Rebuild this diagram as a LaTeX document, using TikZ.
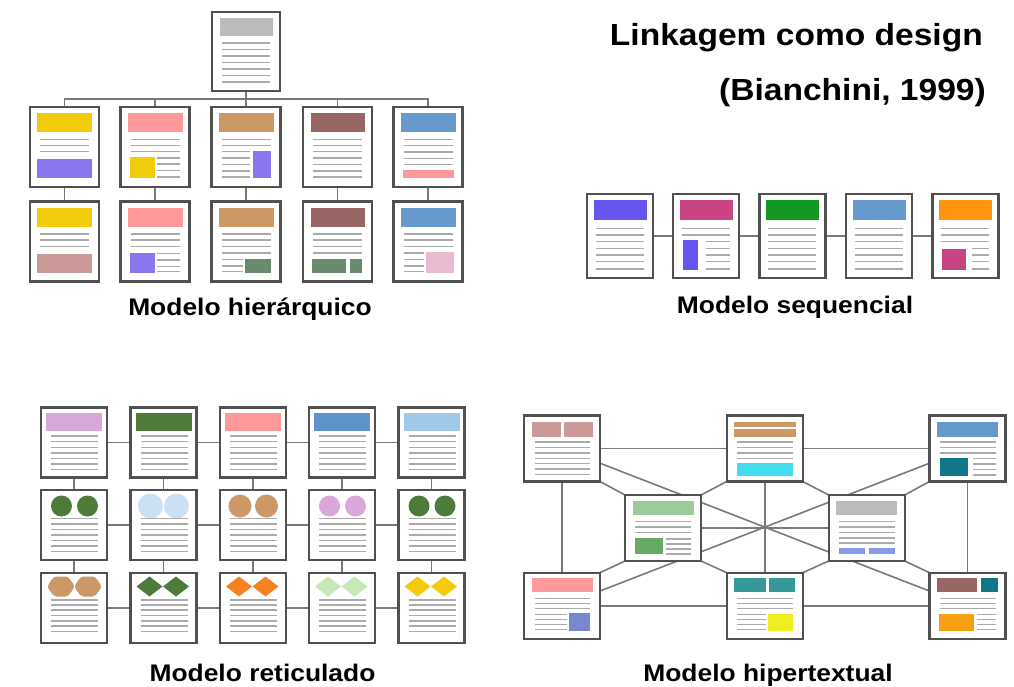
\documentclass[tikz,border=0pt]{standalone}
\usepackage{fontspec}
\setmainfont{Liberation Sans}
\usetikzlibrary{backgrounds,calc}
\definecolor{pageborder}{HTML}{505050}
\definecolor{linegray}{HTML}{ABABAB}
\definecolor{conngray}{HTML}{7A7A7A}
\definecolor{cgray}{HTML}{BBBBBB}
\definecolor{cyel}{HTML}{F2CC0C}
\definecolor{cpink}{HTML}{FF9999}
\definecolor{ctan}{HTML}{CC9966}
\definecolor{cmaroon}{HTML}{996666}
\definecolor{cblue}{HTML}{6699CC}
\definecolor{cpurple}{HTML}{8877EE}
\definecolor{cmauve}{HTML}{CC9999}
\definecolor{cgreen}{HTML}{6A8A6E}
\definecolor{clpink}{HTML}{E8BBD0}
\definecolor{cviolet}{HTML}{6655EE}
\definecolor{cmag}{HTML}{C94483}
\definecolor{cgrn}{HTML}{119922}
\definecolor{corange}{HTML}{FF9411}
\definecolor{corchid}{HTML}{D8A8D8}
\definecolor{cdkgreen}{HTML}{4E7A3A}
\definecolor{cltblue}{HTML}{A0C8E8}
\definecolor{cpaleblue}{HTML}{CCE0F4}
\definecolor{cblue2}{HTML}{5E94CB}
\definecolor{corg2}{HTML}{F5821F}
\definecolor{cltgreen}{HTML}{C8E8B8}
\definecolor{cteal}{HTML}{339999}
\definecolor{cdteal}{HTML}{117788}
\definecolor{ccyan}{HTML}{44DDEE}
\definecolor{cmint}{HTML}{99CC99}
\definecolor{cmgreen}{HTML}{66AA66}
\definecolor{cperi}{HTML}{8899EE}
\definecolor{cslate}{HTML}{7788CC}
\definecolor{cyellow2}{HTML}{EEEE22}
\definecolor{camber}{HTML}{F5A011}
\tikzset{
  pagebox/.style={draw=pageborder, fill=white, line width=2.2pt, inner sep=0pt, outer sep=0pt},
  txtline/.style={draw=linegray, line width=1.3pt},
  conn/.style={draw=conngray, line width=1.6pt},
  lbl/.style={font=\bfseries\fontsize{24}{28}\selectfont, inner sep=0pt, anchor=base},
  ttl/.style={font=\bfseries\fontsize{30.5}{36}\selectfont, inner sep=0pt, anchor=base east},
}
\newcommand\pg[6]{\node[pagebox, minimum width=#4pt, minimum height=#5pt] (#1) at (#2,#3) {};
  \begin{scope}[shift={(#1.north west)}]#6\end{scope}}
\newcommand\lns[3]{\foreach \yy in {#3}{\draw[txtline] (#1,\yy) -- (#2,\yy);}}
\newcommand\bx[5]{\fill[#1] (#2,#3) rectangle (#4,#5);}
\newcommand\dm[3]{\fill[#1] (#2,#3) +(-13,0) -- +(0,-10) -- +(13,0) -- +(0,10) -- cycle;}
\newcommand\hx[3]{\fill[#1, rounded corners=3pt] (#2,#3) +(-14,0) -- +(-7,-10) -- +(7,-10) -- +(14,0) -- +(7,10) -- +(-7,10) -- cycle;}
\newcommand\twoc[1]{\fill[#1] (20.5,16) circle (10.5pt) (46.5,16) circle (10.5pt);}
\begin{document}
\begin{tikzpicture}[x=1pt,y=-1pt]
\useasboundingbox (0,0) rectangle (1014,687);
% ---------- Title ----------
\node[ttl] (t1) at (983,46) {\scalebox{1.1}[1]{Linkagem como design}};
\node[ttl] (t2) at (986,100.5) {\scalebox{1.1}[1]{(Bianchini, 1999)}};
% ---------- Hierarchical ----------
\pg{h0}{246}{51.5}{68}{79}{\bx{cgray}{8}{6}{61}{24}\lns{10}{58}{31,37.5,44,50.5,57,63.5,70}}
\pg{h11}{64.5}{147}{69}{80}{\bx{cyel}{7}{6}{62}{25}\lns{10}{59}{32.5,38.5,44.5}\bx{cpurple}{7}{52}{62}{71}}
\pg{h12}{155}{147}{69}{80}{\bx{cpink}{7.5}{6}{62}{25}\lns{10}{59}{32.5,38.5,44.5}\bx{cyel}{9.5}{50}{34}{71}\lns{36.5}{59}{51,57,63.5,70}}
\pg{h13}{246}{147}{69}{80}{\bx{ctan}{7.5}{6}{62}{25}\lns{10}{59}{32.5,38.5}\lns{10}{38}{44.5,51,57.5,64,70}\bx{cpurple}{41}{44}{59}{71}}
\pg{h14}{337.5}{147}{69}{80}{\bx{cmaroon}{7.5}{6}{62}{25}\lns{10}{59}{32.5,38.5,44.5,51,57.5,64,70}}
\pg{h15}{428}{147}{69}{80}{\bx{cblue}{7.5}{6}{62}{25}\lns{10}{59}{32.5,38.5,45,51.5,57.5}\bx{cpink}{9.5}{63}{60}{71}}
\pg{h21}{64.5}{241.5}{69}{80}{\bx{cyel}{7}{6}{62}{25}\lns{10}{59}{32.5,38.5,45}\bx{cmauve}{7}{52}{62}{71}}
\pg{h22}{155}{241.5}{69}{80}{\bx{cpink}{7.5}{6}{62}{25}\lns{10}{59}{32.5,38.5,45}\bx{cpurple}{9.5}{51}{34}{71}\lns{36.5}{59}{52,58.5,65,70}}
\pg{h23}{246}{241.5}{69}{80}{\bx{ctan}{7.5}{6}{62}{25}\lns{10}{59}{32.5,38.5,45,51.5}\lns{10}{31}{58,64.5,70}\bx{cgreen}{33}{57.5}{59}{71}}
\pg{h24}{337.5}{241.5}{69}{80}{\bx{cmaroon}{7.5}{6}{62}{25}\lns{10}{59}{32.5,38.5,45,51.5}\bx{cgreen}{9}{57.5}{42.5}{71}\bx{cgreen}{46.5}{57.5}{58.5}{71}}
\pg{h25}{428}{241.5}{69}{80}{\bx{cblue}{7.5}{6}{62}{25}\lns{10}{59}{32.5,38.5,45}\lns{10}{30}{51.5,58,64.5,70}\bx{clpink}{32}{50.5}{60}{71}}
\coordinate (hbus) at (246,99);
\node[lbl] (lh) at (250,315) {\scalebox{1.1}[1]{Modelo hierárquico}};
% ---------- Sequential ----------
\pg{s1}{620}{236}{66}{84}{\bx{cviolet}{6.5}{6.5}{59.5}{26}\lns{8.5}{56.5}{34.5,41,47.5,54.5,61,67.5,75}}
\pg{s2}{706}{236}{66}{84}{\bx{cmag}{6.5}{6.5}{59.5}{26}\lns{8.5}{56.5}{34.5,41}\bx{cviolet}{10}{46}{25}{76}\lns{32.5}{56.5}{47.5,54.5,61,67.5,75}}
\pg{s3}{792.5}{236}{66}{84}{\bx{cgrn}{6.5}{6.5}{59.5}{26}\lns{8.5}{56.5}{34.5,41,47.5,54.5,61,67.5,75}}
\pg{s4}{879}{236}{66}{84}{\bx{cblue}{6.5}{6.5}{59.5}{26}\lns{8.5}{56.5}{34.5,41,47.5,54.5,61,67.5,75}}
\pg{s5}{965.5}{236}{66}{84}{\bx{corange}{6.5}{6.5}{59.5}{26}\lns{8.5}{56.5}{34.5,41,47.5}\bx{cmag}{9}{54.5}{33}{76}\lns{39}{56}{54.5,61,67.5,75}}
\node[lbl] (ls) at (795,313) {\scalebox{1.1}[1]{Modelo sequencial}};
% ---------- Reticulated ----------
\pg{r11}{74}{442.5}{66}{70}{\bx{corchid}{5}{5}{61}{23}\lns{10}{57}{28.5,34,40,45.5,51,56.5,62}}
\pg{r12}{163.5}{442.5}{66}{70}{\bx{cdkgreen}{5}{5}{61}{23}\lns{10}{57}{28.5,34,40,45.5,51,56.5,62}}
\pg{r13}{253}{442.5}{66}{70}{\bx{cpink}{5}{5}{61}{23}\lns{10}{57}{28.5,34,40,45.5,51,56.5,62}}
\pg{r14}{342}{442.5}{66}{70}{\bx{cblue2}{5}{5}{61}{23}\lns{10}{57}{28.5,34,40,45.5,51,56.5,62}}
\pg{r15}{431.5}{442.5}{66}{70}{\bx{cltblue}{5}{5}{61}{23}\lns{10}{57}{28.5,34,40,45.5,51,56.5,62}}
\pg{r21}{74}{525}{66}{70}{\twoc{cdkgreen}\lns{10}{57}{28.5,34,39.5,45,50.5,56,61.5}}
\pg{r22}{163.5}{525}{66}{70}{\fill[cpaleblue] (20,16) circle (12.5pt) (46,16) circle (12.5pt);\lns{10}{57}{28.5,34,39.5,45,50.5,56,61.5}}
\pg{r23}{253}{525}{66}{70}{\fill[ctan] (20,16) circle (11.5pt) (46.5,16) circle (11.5pt);\lns{10}{57}{28.5,34,39.5,45,50.5,56,61.5}}
\pg{r24}{342}{525}{66}{70}{\twoc{corchid}\lns{10}{57}{28.5,34,39.5,45,50.5,56,61.5}}
\pg{r25}{431.5}{525}{66}{70}{\twoc{cdkgreen}\lns{10}{57}{28.5,34,39.5,45,50.5,56,61.5}}
\pg{r31}{74}{608}{66}{70}{\hx{ctan}{20}{13.5}\hx{ctan}{47}{13.5}\lns{10}{57}{27,32,37,42.5,48,53,58.5}}
\pg{r32}{163.5}{608}{66}{70}{\dm{cdkgreen}{19}{13.5}\dm{cdkgreen}{45.5}{13.5}\lns{10}{57}{27,32,37,42.5,48,53,58.5}}
\pg{r33}{253}{608}{66}{70}{\dm{corg2}{19}{13.5}\dm{corg2}{45.5}{13.5}\lns{10}{57}{27,32,37,42.5,48,53,58.5}}
\pg{r34}{342}{608}{66}{70}{\dm{cltgreen}{19}{13.5}\dm{cltgreen}{45.5}{13.5}\lns{10}{57}{27,32,37,42.5,48,53,58.5}}
\pg{r35}{431.5}{608}{66}{70}{\dm{cyel}{19}{13.5}\dm{cyel}{45.5}{13.5}\lns{10}{57}{27,32,37,42.5,48,53,58.5}}
\node[lbl] (lr) at (262.5,681.5) {\scalebox{1.1}[1]{Modelo reticulado}};
% ---------- Hypertextual ----------
\pg{TL}{562}{448.5}{76}{66}{\bx{cmauve}{7.5}{6}{36.5}{21}\bx{cmauve}{40}{6}{68.5}{21}\lns{11}{66}{26.5,32,37.5,43,48,53.5,59}}
\pg{TM}{764.7}{448.5}{76}{66}{\bx{ctan}{7.5}{6}{69}{11}\bx{ctan}{7.5}{13.5}{69}{21}\lns{10}{66}{26.5,32,37.5,43}\bx{ccyan}{10}{47.5}{66.5}{60}}
\pg{TR}{967.5}{448.5}{76}{66}{\bx{cblue}{7.5}{6}{68.5}{21}\lns{10}{66}{26.5,32,37.5}\bx{cdteal}{10}{42.5}{38.5}{60}\lns{43.5}{66}{43,48.5,54,59.5}}
\pg{ML}{663}{528}{76}{66}{\bx{cmint}{7.5}{5.5}{68.5}{20}\lns{10}{66}{26.5,32,37.5}\bx{cmgreen}{10}{42.5}{37.5}{58.5}\lns{41}{66}{44,49,54,59}}
\pg{MR}{866.7}{528}{76}{66}{\bx{cgray}{7.5}{5.5}{68.5}{20}\lns{10}{66}{26.5,32,37.5,43,48}\bx{cperi}{10}{53}{36}{59}\bx{cperi}{40}{53}{66}{59}}
\pg{BL}{562}{605.7}{76}{66}{\bx{cpink}{7.5}{5}{68.5}{19}\lns{11}{66}{25.5,30.5,35.5}\lns{11}{42.5}{41.5,47,52,57}\bx{cslate}{45}{40}{66}{58}}
\pg{BM}{764.7}{605.7}{76}{66}{\bx{cteal}{7.5}{5}{39.5}{19}\bx{cteal}{42.5}{5}{68.5}{19}\lns{10}{66}{25.5,30.5,36}\lns{10}{39}{41.5,47,52,57}\bx{cyellow2}{41.5}{41.5}{66.5}{58}}
\pg{BR}{967.5}{605.7}{76}{66}{\bx{cmaroon}{7.5}{5}{47}{19}\bx{cdteal}{51}{5}{68.5}{19}\lns{10}{66}{25.5,31,36}\bx{camber}{9.5}{41.5}{44}{58}\lns{47.5}{66}{41.5,47,52,57}}
\node[lbl] (lx) at (768,681.5) {\scalebox{1.1}[1]{Modelo hipertextual}};
% ---------- Connectors (behind pages) ----------
\begin{scope}[on background layer]
  \fill[white] (0,0) rectangle (1014,687);
  % hierarchical
  \draw[conn] (h0) -- (hbus);
  \draw[conn] (h11) -- (h11 |- hbus) -- (h15 |- hbus) -- (h15);
  \foreach \n in {h12,h13,h14} \draw[conn] (\n) -- (\n |- hbus);
  \foreach \n in {1,...,5} \draw[conn] (h1\n) -- (h2\n);
  % sequential
  \draw[conn] (s1) -- (s2) -- (s3) -- (s4) -- (s5);
  % reticulated
  \foreach \r in {1,2,3} \draw[conn] (r\r1) -- (r\r2) -- (r\r3) -- (r\r4) -- (r\r5);
  \foreach \c in {1,...,5} \draw[conn] (r1\c) -- (r2\c) -- (r3\c);
  % hypertextual
  \draw[conn] (TL) -- (TM) -- (TR);
  \draw[conn] (BL) -- (BM) -- (BR);
  \draw[conn] (TL) -- (BL);
  \draw[conn] (TM) -- (BM);
  \draw[conn] (TR) -- (BR);
  \draw[conn] (ML) -- (MR);
  \draw[conn] (TL) -- (BR);
  \draw[conn] (TR) -- (BL);
  \draw[conn] (TL.south east) -- (ML.north west);
  \draw[conn] (TM.south west) -- (ML.north east);
  \draw[conn] (TM.south east) -- (MR.north west);
  \draw[conn] (TR.south west) -- (MR.north east);
  \draw[conn] (BL.north east) -- (ML.south west);
  \draw[conn] (BM.north west) -- (ML.south east);
  \draw[conn] (BM.north east) -- (MR.south west);
  \draw[conn] (BR.north west) -- (MR.south east);
\end{scope}
\end{tikzpicture}
\end{document}
